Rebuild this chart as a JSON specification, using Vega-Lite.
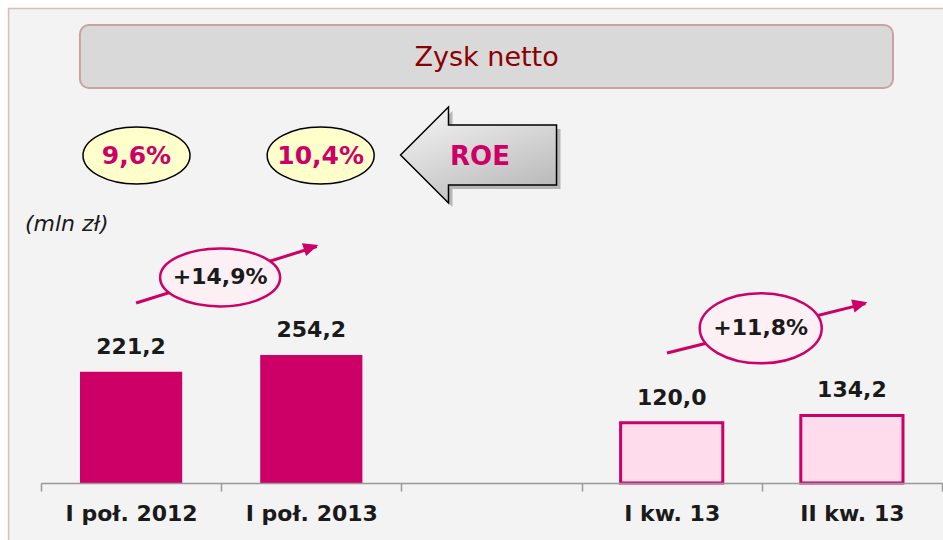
{
  "$schema": "https://vega.github.io/schema/vega-lite/v6.json",
  "width": 901,
  "height": 483,
  "autosize": {"type": "none"},
  "padding": {"left": 41, "top": 0, "right": 1, "bottom": 57},
  "background": "#ffffff",
  "config": {"view": {"stroke": null}, "font": "DejaVu Sans"},
  "datasets": {
    "bars": [
      {"period": "I poł. 2012", "value": 221.2, "kind": "półrocze", "label": "221,2"},
      {"period": "I poł. 2013", "value": 254.2, "kind": "półrocze", "label": "254,2"},
      {"period": "I kw. 13", "value": 120.0, "kind": "kwartał", "label": "120,0"},
      {"period": "II kw. 13", "value": 134.2, "kind": "kwartał", "label": "134,2"}
    ],
    "panel": [{"x": -0.18, "x2": 5.3, "y": 943, "y2": -130}],
    "titlebox": [{"x": 0.216, "x2": 4.728, "y": 910.3, "y2": 785.1, "text": "Zysk netto", "tx": 2.473, "ty": 845.5}],
    "roeArrow": [{"x": 2.428, "y": 651.9, "text": "ROE", "tx": 2.436, "ty": 647.9}],
    "roe": [
      {"x": 0.530, "y": 650.9, "text": "9,6%"},
      {"x": 1.552, "y": 650.9, "text": "10,4%"}
    ],
    "unit": [{"x": -0.089, "y": 514.8, "text": "(mln zł)"}],
    "growth1": [{"x0": 0.528, "y0": 357.8, "x1": 1.530, "y1": 470.0, "tx": 1.539, "ty": 473.0, "cx": 0.994, "cy": 408.5, "text": "+14,9%"}],
    "growth2": [{"x0": 3.474, "y0": 258.4, "x1": 4.575, "y1": 356.5, "tx": 4.586, "ty": 359.2, "cx": 3.994, "cy": 307.5, "text": "+11,8%"}]
  },
  "resolve": {"scale": {"x": "independent"}},
  "layer": [
    {
      "data": {"name": "panel"},
      "mark": {"type": "rect", "fill": "#f3f3f3", "stroke": "#d9bcbc", "strokeWidth": 1.5},
      "encoding": {
        "x": {"field": "x", "type": "quantitative", "scale": {"domain": [0, 5], "nice": false, "zero": false}, "axis": null},
        "x2": {"field": "x2"},
        "y": {"field": "y", "type": "quantitative", "scale": {"domain": [0, 960], "nice": false, "zero": false}, "axis": null},
        "y2": {"field": "y2"}
      }
    },
    {
      "data": {"name": "titlebox"},
      "mark": {"type": "rect", "fill": "#d9d9d9", "stroke": "#c9a3a3", "strokeWidth": 2, "cornerRadius": 9},
      "encoding": {
        "x": {"field": "x", "type": "quantitative", "scale": {"domain": [0, 5], "nice": false, "zero": false}, "axis": null},
        "x2": {"field": "x2"},
        "y": {"field": "y", "type": "quantitative", "scale": {"domain": [0, 960], "nice": false, "zero": false}, "axis": null},
        "y2": {"field": "y2"}
      }
    },
    {
      "data": {"name": "titlebox"},
      "mark": {"type": "text", "font": "DejaVu Sans", "fontSize": 27, "color": "#8b0000", "align": "center", "baseline": "middle"},
      "encoding": {
        "x": {"field": "tx", "type": "quantitative", "scale": {"domain": [0, 5], "nice": false, "zero": false}, "axis": null},
        "y": {"field": "ty", "type": "quantitative", "scale": {"domain": [0, 960], "nice": false, "zero": false}, "axis": null},
        "text": {"field": "text"}
      }
    },
    {
      "data": {"name": "roeArrow"},
      "mark": {"type": "point", "shape": "M-1,0 L-0.385,-0.615 L-0.385,-0.385 L1,-0.385 L1,0.385 L-0.385,0.385 L-0.385,0.615 Z", "size": 24336, "filled": true, "fill": "#000000", "opacity": 0.25, "strokeWidth": 0, "xOffset": 4, "yOffset": 4},
      "encoding": {
        "x": {"field": "x", "type": "quantitative", "scale": {"domain": [0, 5], "nice": false, "zero": false}, "axis": null},
        "y": {"field": "y", "type": "quantitative", "scale": {"domain": [0, 960], "nice": false, "zero": false}, "axis": null}
      }
    },
    {
      "data": {"name": "roeArrow"},
      "mark": {"type": "point", "shape": "M-1,0 L-0.385,-0.615 L-0.385,-0.385 L1,-0.385 L1,0.385 L-0.385,0.385 L-0.385,0.615 Z", "size": 24336, "filled": true, "opacity": 1,
        "fill": {"gradient": "linear", "x1": 0, "y1": 0, "x2": 0.6, "y2": 1, "stops": [{"offset": 0, "color": "#f8f8f8"}, {"offset": 1, "color": "#bcbcbc"}]},
        "stroke": "#000000", "strokeWidth": 1.5},
      "encoding": {
        "x": {"field": "x", "type": "quantitative", "scale": {"domain": [0, 5], "nice": false, "zero": false}, "axis": null},
        "y": {"field": "y", "type": "quantitative", "scale": {"domain": [0, 960], "nice": false, "zero": false}, "axis": null}
      }
    },
    {
      "data": {"name": "roeArrow"},
      "mark": {"type": "text", "font": "DejaVu Sans", "fontSize": 26, "fontWeight": "bold", "color": "#cc0066", "align": "center", "baseline": "middle"},
      "encoding": {
        "x": {"field": "tx", "type": "quantitative", "scale": {"domain": [0, 5], "nice": false, "zero": false}, "axis": null},
        "y": {"field": "ty", "type": "quantitative", "scale": {"domain": [0, 960], "nice": false, "zero": false}, "axis": null},
        "text": {"field": "text"}
      }
    },
    {
      "data": {"name": "roe"},
      "mark": {"type": "point", "shape": "M1,0 C1,0.294 0.552,0.533 0,0.533 C-0.552,0.533 -1,0.294 -1,0 C-1,-0.294 -0.552,-0.533 0,-0.533 C0.552,-0.533 1,-0.294 1,0 Z", "size": 11449, "filled": true, "opacity": 1, "fill": "#ffffcc", "stroke": "#000000", "strokeWidth": 1.5},
      "encoding": {
        "x": {"field": "x", "type": "quantitative", "scale": {"domain": [0, 5], "nice": false, "zero": false}, "axis": null},
        "y": {"field": "y", "type": "quantitative", "scale": {"domain": [0, 960], "nice": false, "zero": false}, "axis": null}
      }
    },
    {
      "data": {"name": "roe"},
      "mark": {"type": "text", "font": "DejaVu Sans", "fontSize": 25, "fontWeight": "bold", "color": "#cc0066", "align": "center", "baseline": "middle"},
      "encoding": {
        "x": {"field": "x", "type": "quantitative", "scale": {"domain": [0, 5], "nice": false, "zero": false}, "axis": null},
        "y": {"field": "y", "type": "quantitative", "scale": {"domain": [0, 960], "nice": false, "zero": false}, "axis": null},
        "text": {"field": "text"}
      }
    },
    {
      "data": {"name": "unit"},
      "mark": {"type": "text", "font": "DejaVu Sans", "fontSize": 22, "fontStyle": "italic", "color": "#1a1a1a", "align": "left", "baseline": "middle"},
      "encoding": {
        "x": {"field": "x", "type": "quantitative", "scale": {"domain": [0, 5], "nice": false, "zero": false}, "axis": null},
        "y": {"field": "y", "type": "quantitative", "scale": {"domain": [0, 960], "nice": false, "zero": false}, "axis": null},
        "text": {"field": "text"}
      }
    },
    {
      "data": {"name": "growth1"},
      "layer": [
        {
          "mark": {"type": "rule", "color": "#cc0066", "strokeWidth": 3},
          "encoding": {
            "x": {"field": "x0", "type": "quantitative", "scale": {"domain": [0, 5], "nice": false, "zero": false}, "axis": null},
            "x2": {"field": "x1"},
            "y": {"field": "y0", "type": "quantitative", "scale": {"domain": [0, 960], "nice": false, "zero": false}, "axis": null},
            "y2": {"field": "y1"}
          }
        },
        {
          "mark": {"type": "point", "shape": "M-2,-0.9 L0,0 L-2,0.9 Z", "size": 225, "angle": -17.7, "filled": true, "opacity": 1, "fill": "#cc0066", "strokeWidth": 0},
          "encoding": {
            "x": {"field": "tx", "type": "quantitative", "scale": {"domain": [0, 5], "nice": false, "zero": false}, "axis": null},
            "y": {"field": "ty", "type": "quantitative", "scale": {"domain": [0, 960], "nice": false, "zero": false}, "axis": null}
          }
        },
        {
          "mark": {"type": "point", "shape": "M1,0 C1,0.267 0.552,0.483 0,0.483 C-0.552,0.483 -1,0.267 -1,0 C-1,-0.267 -0.552,-0.483 0,-0.483 C0.552,-0.483 1,-0.267 1,0 Z", "size": 14400, "filled": true, "opacity": 1, "fill": "#fcf0f5", "stroke": "#cc0066", "strokeWidth": 2.5},
          "encoding": {
            "x": {"field": "cx", "type": "quantitative", "scale": {"domain": [0, 5], "nice": false, "zero": false}, "axis": null},
            "y": {"field": "cy", "type": "quantitative", "scale": {"domain": [0, 960], "nice": false, "zero": false}, "axis": null}
          }
        },
        {
          "mark": {"type": "text", "font": "DejaVu Sans", "fontSize": 22, "fontWeight": "bold", "color": "#1a1a1a", "align": "center", "baseline": "middle"},
          "encoding": {
            "x": {"field": "cx", "type": "quantitative", "scale": {"domain": [0, 5], "nice": false, "zero": false}, "axis": null},
            "y": {"field": "cy", "type": "quantitative", "scale": {"domain": [0, 960], "nice": false, "zero": false}, "axis": null},
            "text": {"field": "text"}
          }
        }
      ]
    },
    {
      "data": {"name": "growth2"},
      "layer": [
        {
          "mark": {"type": "rule", "color": "#cc0066", "strokeWidth": 3},
          "encoding": {
            "x": {"field": "x0", "type": "quantitative", "scale": {"domain": [0, 5], "nice": false, "zero": false}, "axis": null},
            "x2": {"field": "x1"},
            "y": {"field": "y0", "type": "quantitative", "scale": {"domain": [0, 960], "nice": false, "zero": false}, "axis": null},
            "y2": {"field": "y1"}
          }
        },
        {
          "mark": {"type": "point", "shape": "M-2,-0.9 L0,0 L-2,0.9 Z", "size": 225, "angle": -14.3, "filled": true, "opacity": 1, "fill": "#cc0066", "strokeWidth": 0},
          "encoding": {
            "x": {"field": "tx", "type": "quantitative", "scale": {"domain": [0, 5], "nice": false, "zero": false}, "axis": null},
            "y": {"field": "ty", "type": "quantitative", "scale": {"domain": [0, 960], "nice": false, "zero": false}, "axis": null}
          }
        },
        {
          "mark": {"type": "point", "shape": "M1,0 C1,0.317 0.552,0.574 0,0.574 C-0.552,0.574 -1,0.317 -1,0 C-1,-0.317 -0.552,-0.574 0,-0.574 C0.552,-0.574 1,-0.317 1,0 Z", "size": 14884, "filled": true, "opacity": 1, "fill": "#fcf0f5", "stroke": "#cc0066", "strokeWidth": 2.5},
          "encoding": {
            "x": {"field": "cx", "type": "quantitative", "scale": {"domain": [0, 5], "nice": false, "zero": false}, "axis": null},
            "y": {"field": "cy", "type": "quantitative", "scale": {"domain": [0, 960], "nice": false, "zero": false}, "axis": null}
          }
        },
        {
          "mark": {"type": "text", "font": "DejaVu Sans", "fontSize": 22, "fontWeight": "bold", "color": "#1a1a1a", "align": "center", "baseline": "middle"},
          "encoding": {
            "x": {"field": "cx", "type": "quantitative", "scale": {"domain": [0, 5], "nice": false, "zero": false}, "axis": null},
            "y": {"field": "cy", "type": "quantitative", "scale": {"domain": [0, 960], "nice": false, "zero": false}, "axis": null},
            "text": {"field": "text"}
          }
        }
      ]
    },
    {
      "data": {"name": "bars"},
      "mark": {"type": "bar", "width": {"band": 0.567}, "stroke": "#cc0066"},
      "encoding": {
        "x": {"field": "period", "type": "nominal", "sort": null,
          "scale": {"domain": ["I poł. 2012", "I poł. 2013", " ", "I kw. 13", "II kw. 13"], "paddingInner": 0, "paddingOuter": 0},
          "axis": {"title": null, "zindex": 1, "labelAngle": 0, "tickBand": "extent", "domainColor": "#999999", "domainWidth": 1.5, "tickColor": "#999999", "tickWidth": 1.5, "tickSize": 8,
            "labelFont": "DejaVu Sans", "labelFontSize": 22, "labelFontWeight": "bold", "labelColor": "#1a1a1a", "labelPadding": 12, "labelBaseline": "top"}},
        "y": {"field": "value", "type": "quantitative", "scale": {"domain": [0, 960], "nice": false, "zero": false}, "axis": null},
        "fill": {"field": "kind", "type": "nominal", "scale": {"domain": ["półrocze", "kwartał"], "range": ["#cc0066", "#ffdcec"]}, "legend": null},
        "strokeWidth": {"field": "kind", "type": "nominal", "scale": {"domain": ["półrocze", "kwartał"], "range": [0, 3]}, "legend": null}
      }
    },
    {
      "data": {"name": "bars"},
      "mark": {"type": "text", "font": "DejaVu Sans", "fontSize": 22, "fontWeight": "bold", "color": "#1a1a1a", "align": "center", "baseline": "alphabetic", "dy": -18},
      "encoding": {
        "x": {"field": "period", "type": "nominal", "sort": null,
          "scale": {"domain": ["I poł. 2012", "I poł. 2013", " ", "I kw. 13", "II kw. 13"], "paddingInner": 0, "paddingOuter": 0},
          "axis": null},
        "y": {"field": "value", "type": "quantitative", "scale": {"domain": [0, 960], "nice": false, "zero": false}, "axis": null},
        "text": {"field": "label"}
      }
    }
  ]
}
